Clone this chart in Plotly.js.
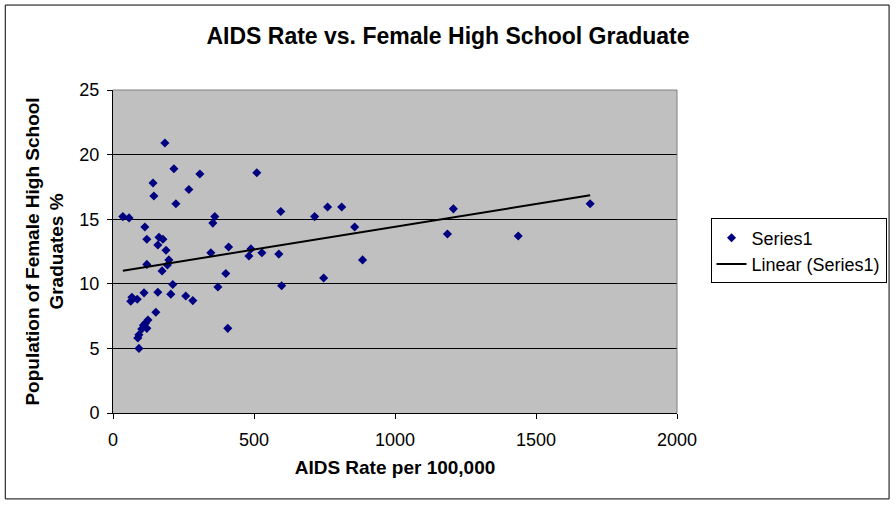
<!DOCTYPE html>
<html>
<head>
<meta charset="utf-8">
<script src="https://cdn.plot.ly/plotly-3.0.1.min.js"></script>
<style>
  html, body { margin: 0; padding: 0; background: #ffffff; }
  #chart { width: 896px; height: 505px; }
</style>
</head>
<body>
<div id="chart"></div>
<script>
// AIDS rate per 100,000 (x) vs. female high school graduates % (y)
var aidsRate = [184, 216, 308, 510, 142, 269, 145, 223, 35, 57,
                361, 354, 595, 715, 761, 811, 113, 120, 163, 177,
                159, 188, 410, 347, 489, 482, 528, 588, 198, 193,
                120, 174, 400, 747, 212, 372, 598, 110, 159, 205,
                258, 283, 67, 63, 86, 152, 407, 124, 115, 108,
                120, 102, 92, 88, 92, 857, 885, 1207, 1186, 1437, 1692];
var gradPct = [20.9, 18.9, 18.5, 18.6, 17.8, 17.3, 16.8, 16.2, 15.2, 15.1,
               15.2, 14.7, 15.6, 15.2, 15.95, 15.95, 14.4, 13.45, 13.6, 13.45,
               13.0, 12.6, 12.85, 12.4, 12.7, 12.15, 12.4, 12.3, 11.85, 11.45,
               11.5, 11.0, 10.8, 10.45, 9.95, 9.75, 9.85, 9.3, 9.35, 9.2,
               9.05, 8.7, 8.95, 8.65, 8.8, 7.8, 6.55, 7.2, 6.95, 6.8,
               6.55, 6.5, 6.05, 5.8, 5.0, 14.4, 11.85, 15.8, 13.85, 13.7, 16.2];

var xTicks = [0, 500, 1000, 1500, 2000];
var yTicks = [0, 5, 10, 15, 20, 25];

// least squares trend line, like Excel's "Linear (Series1)"
var n = aidsRate.length, sx = 0, sy = 0, sxx = 0, sxy = 0;
for (var i = 0; i < n; i++) {
  sx += aidsRate[i]; sy += gradPct[i];
  sxx += aidsRate[i] * aidsRate[i]; sxy += aidsRate[i] * gradPct[i];
}
var slope = (n * sxy - sx * sy) / (n * sxx - sx * sx);
var icept = (sy - slope * sx) / n;
var xMin = Math.min.apply(null, aidsRate), xMax = Math.max.apply(null, aidsRate);

var font = 'Arial, "Liberation Sans", sans-serif';

var series1 = {
  x: aidsRate,
  y: gradPct,
  type: 'scatter',
  mode: 'markers',
  name: 'Series1',
  marker: { symbol: 'diamond', size: 7, color: '#000080' },
  cliponaxis: false
};

var linear = {
  x: [xMin, xMax],
  y: [icept + slope * xMin, icept + slope * xMax],
  type: 'scatter',
  mode: 'lines',
  name: 'Linear (Series1)',
  line: { color: '#000000', width: 2 }
};

var layout = {
  width: 896,
  height: 505,
  margin: { l: 113, r: 219, t: 90, b: 92 },
  paper_bgcolor: '#ffffff',
  plot_bgcolor: '#c0c0c0',
  font: { family: font, size: 18, color: '#000000' },
  showlegend: true,
  title: {
    text: '<b>AIDS Rate vs. Female High School Graduate</b>',
    font: { family: font, size: 23, color: '#000000' },
    x: 0.5, xanchor: 'center', xref: 'container',
    y: 0.929, yanchor: 'middle', yref: 'container'
  },
  xaxis: {
    range: [0, 2000],
    tickvals: xTicks,
    ticks: 'outside', ticklen: 5, tickcolor: '#000000',
    ticklabelstandoff: 5,
    showgrid: false, zeroline: false,
    showline: true, linecolor: '#000000', linewidth: 1,
    tickfont: { family: font, size: 18 },
    title: { text: '<b>AIDS Rate per 100,000</b>', font: { family: font, size: 19 }, standoff: 12 }
  },
  yaxis: {
    range: [0, 25],
    tickvals: yTicks,
    ticks: 'outside', ticklen: 5, tickcolor: '#000000',
    ticklabelstandoff: 4,
    showgrid: true, gridcolor: '#000000', gridwidth: 1,
    zeroline: false,
    showline: true, linecolor: '#000000', linewidth: 1,
    tickfont: { family: font, size: 18 },
    title: { text: '<b>Population of Female High School<br>Graduates %</b>', font: { family: font, size: 19 }, standoff: 10 }
  },
  legend: {
    xref: 'container', yref: 'container',
    x: 0.793, xanchor: 'left',
    y: 0.503, yanchor: 'middle',
    bgcolor: '#ffffff',
    bordercolor: '#000000', borderwidth: 1,
    font: { family: font, size: 18 },
    itemwidth: 30,
    tracegroupgap: 0
  },
  shapes: [
    // grey plot border on top and right, as in the Excel plot area
    { type: 'path', xref: 'paper', yref: 'paper', layer: 'above',
      path: 'M 0 1 L 1 1 L 1 0', line: { color: '#808080', width: 1 } },
    // outer chart border
    { type: 'rect', xref: 'paper', yref: 'paper', layer: 'above',
      x0: -0.191, x1: 1.376, y0: -0.266, y1: 1.263,
      line: { color: '#000000', width: 1 }, fillcolor: 'rgba(0,0,0,0)' }
  ]
};

Plotly.newPlot('chart', [series1, linear], layout, { displayModeBar: false, staticPlot: true });
</script>
</body>
</html>
